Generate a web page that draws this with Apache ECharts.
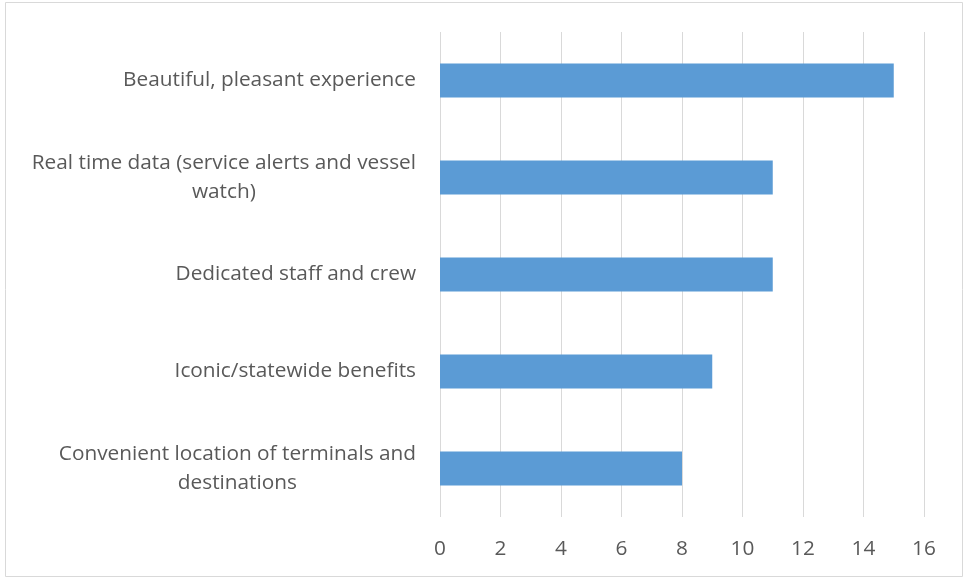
<!DOCTYPE html>
<html>
<head>
<meta charset="utf-8">
<script src="https://cdn.jsdelivr.net/npm/echarts@6/dist/echarts.min.js"></script>
<style>html,body{margin:0;padding:0;background:#fff}#c{width:964px;height:578px}</style>
</head>
<body>
<div id="c"></div>
<script>
const categories = [
  "Beautiful, pleasant experience",
  "Real time data (service alerts and vessel watch)",
  "Dedicated staff and crew",
  "Iconic/statewide benefits",
  "Convenient location of terminals and destinations"
];
const values = [15, 11, 11, 9, 8];
const xTicks = { min: 0, max: 16, interval: 2 };

const FONT = '"Open Sans", sans-serif';
const FS = 20.8;
const ctx = document.createElement('canvas').getContext('2d');
ctx.font = FS + 'px ' + FONT;
function wrap(text, maxW) {
  const words = text.split(' ');
  const lines = [];
  let cur = '';
  for (const w of words) {
    const t = cur ? cur + ' ' + w : w;
    if (ctx.measureText(t).width > maxW && cur) { lines.push(cur); cur = w; }
    else cur = t;
  }
  if (cur) lines.push(cur);
  return lines;
}

const chart = echarts.init(document.getElementById('c'), null, { renderer: 'canvas' });
chart.setOption({
  animation: false,
  backgroundColor: '#ffffff',
  graphic: [{
    type: 'rect', silent: true,
    shape: { x: 5.5, y: 2.5, width: 957, height: 574 },
    style: { fill: 'none', stroke: '#d9d9d9', lineWidth: 1 }
  }],
  grid: { left: 440, right: 40, top: 32, bottom: 61, containLabel: false },
  xAxis: {
    type: 'value', min: xTicks.min, max: xTicks.max, interval: xTicks.interval,
    axisLine: { show: false }, axisTick: { show: false },
    splitLine: { show: true, lineStyle: { color: '#d9d9d9', width: 1 } },
    axisLabel: { color: '#595959', fontFamily: FONT, fontSize: FS, margin: 22 }
  },
  yAxis: {
    type: 'category', data: categories, inverse: true,
    axisLine: { show: false }, axisTick: { show: false },
    axisLabel: {
      margin: 24, color: '#595959', fontFamily: FONT, fontSize: FS, lineHeight: 29,
      formatter: function (v) {
        return wrap(v, 395).map(l => '{a|' + l + '}').join('\n');
      },
      rich: { a: { align: 'center', color: '#595959', fontFamily: FONT, fontSize: FS, lineHeight: 29 } }
    }
  },
  series: [{
    type: 'bar', data: values, barWidth: 34,
    itemStyle: { color: '#5B9BD5' }
  }]
});
</script>
</body>
</html>
